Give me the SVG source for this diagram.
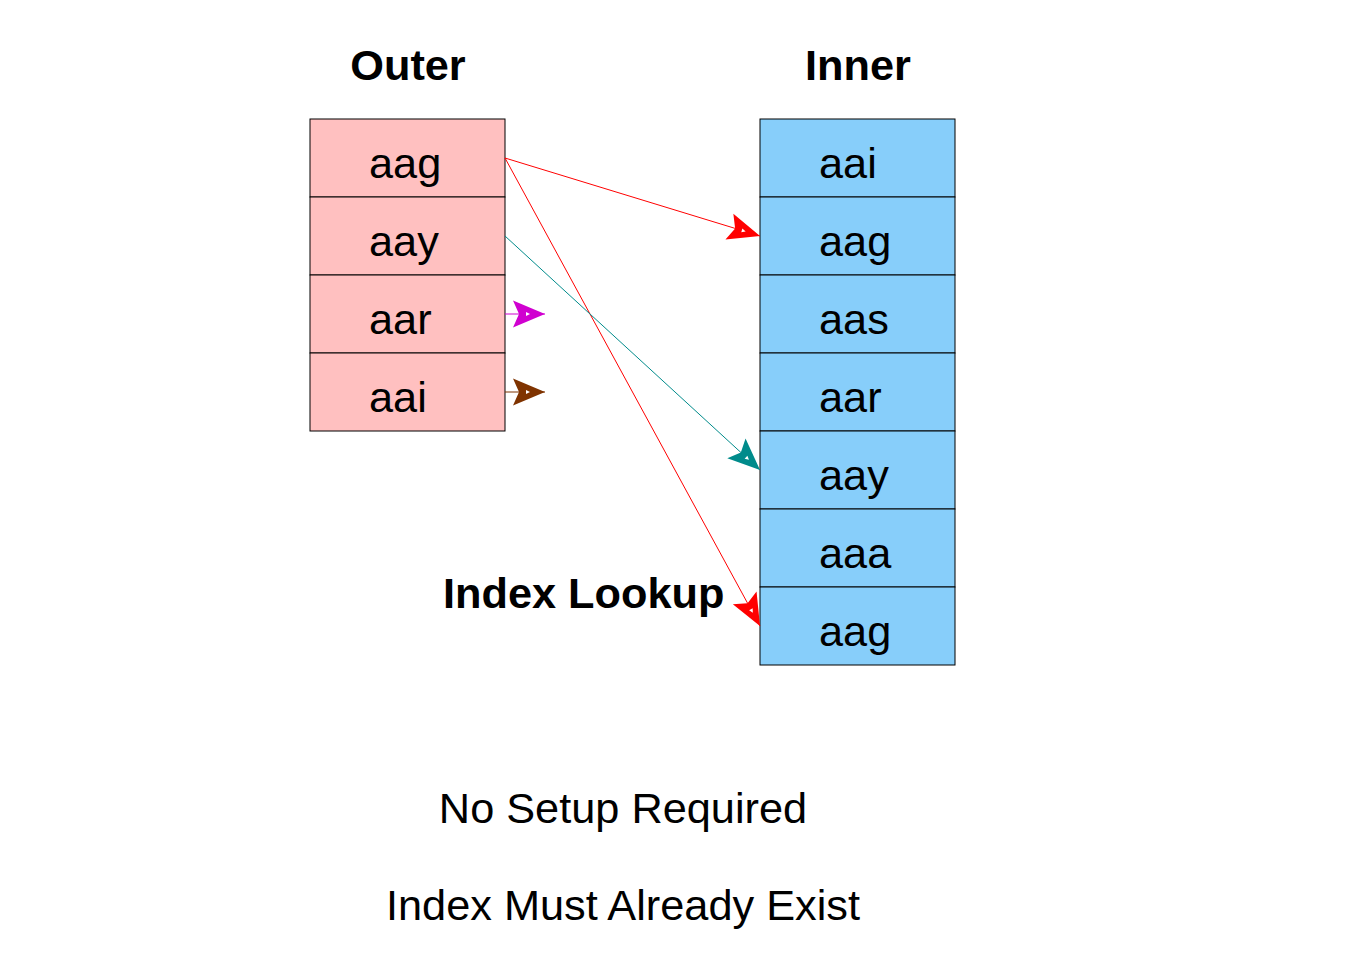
<svg xmlns="http://www.w3.org/2000/svg" width="1351" height="964" viewBox="0 0 1351 964">
<style>
text{font-family:"Liberation Sans",Arial,sans-serif;font-size:43.3px;fill:#000}
.b{font-weight:bold}
.o{fill:#ffc0c0;stroke:#000;stroke-width:1}
.i{fill:#87cefa;stroke:#000;stroke-width:1}
.c{fill:none;stroke-width:1}
</style>
<defs>
<marker id="mr" markerUnits="userSpaceOnUse" viewBox="-34 -15 36 30" refX="0" refY="0" markerWidth="36" markerHeight="30" orient="auto"><path d="M0,0 L-32,-13.5 L-26,0 L-32,13.5 Z" fill="#ff0000"/><path d="M-19,-2 L-15,0 L-19,2 Z" fill="#fff"/></marker>
<marker id="mt" markerUnits="userSpaceOnUse" viewBox="-34 -15 36 30" refX="0" refY="0" markerWidth="36" markerHeight="30" orient="auto"><path d="M0,0 L-32,-13.5 L-26,0 L-32,13.5 Z" fill="#008b8b"/><path d="M-19,-2 L-15,0 L-19,2 Z" fill="#fff"/></marker>
<marker id="mm" markerUnits="userSpaceOnUse" viewBox="-34 -15 36 30" refX="0" refY="0" markerWidth="36" markerHeight="30" orient="auto"><path d="M0,0 L-32,-13.5 L-26,0 L-32,13.5 Z" fill="#d000d0"/><path d="M-19,-2 L-15,0 L-19,2 Z" fill="#fff"/></marker>
<marker id="mb" markerUnits="userSpaceOnUse" viewBox="-34 -15 36 30" refX="0" refY="0" markerWidth="36" markerHeight="30" orient="auto"><path d="M0,0 L-32,-13.5 L-26,0 L-32,13.5 Z" fill="#7f3300"/><path d="M-19,-2 L-15,0 L-19,2 Z" fill="#fff"/></marker>
</defs>
<rect width="1351" height="964" fill="#fff"/>
<text class="b" x="408" y="80" text-anchor="middle">Outer</text>
<text class="b" x="858" y="80" text-anchor="middle">Inner</text>
<g id="outer">
<g id="o1"><rect class="o" x="310" y="119" width="195" height="78"/><text x="369" y="178">aag</text></g>
<g id="o2"><rect class="o" x="310" y="197" width="195" height="78"/><text x="369" y="256">aay</text></g>
<g id="o3"><rect class="o" x="310" y="275" width="195" height="78"/><text x="369" y="334">aar</text></g>
<g id="o4"><rect class="o" x="310" y="353" width="195" height="78"/><text x="369" y="412">aai</text></g>
</g>
<g id="inner">
<g id="i1"><rect class="i" x="760" y="119" width="195" height="78"/><text x="819" y="178">aai</text></g>
<g id="i2"><rect class="i" x="760" y="197" width="195" height="78"/><text x="819" y="256">aag</text></g>
<g id="i3"><rect class="i" x="760" y="275" width="195" height="78"/><text x="819" y="334">aas</text></g>
<g id="i4"><rect class="i" x="760" y="353" width="195" height="78"/><text x="819" y="412">aar</text></g>
<g id="i5"><rect class="i" x="760" y="431" width="195" height="78"/><text x="819" y="490">aay</text></g>
<g id="i6"><rect class="i" x="760" y="509" width="195" height="78"/><text x="819" y="568">aaa</text></g>
<g id="i7"><rect class="i" x="760" y="587" width="195" height="78"/><text x="819" y="646">aag</text></g>
</g>
<g id="connectors">
<line class="c" x1="505" y1="158" x2="760" y2="236" stroke="#ff0000" marker-end="url(#mr)"/>
<line class="c" x1="505" y1="158" x2="760" y2="626" stroke="#ff0000" marker-end="url(#mr)"/>
<line class="c" x1="505" y1="236" x2="760" y2="470" stroke="#008b8b" marker-end="url(#mt)"/>
<line class="c" x1="505" y1="314" x2="545" y2="314" stroke="#d000d0" marker-end="url(#mm)"/>
<line class="c" x1="505" y1="392" x2="545" y2="392" stroke="#7f3300" marker-end="url(#mb)"/>
</g>
<text class="b" x="443" y="608">Index Lookup</text>
<text x="623" y="823" text-anchor="middle">No Setup Required</text>
<text x="623" y="920" text-anchor="middle">Index Must Already Exist</text>
</svg>
